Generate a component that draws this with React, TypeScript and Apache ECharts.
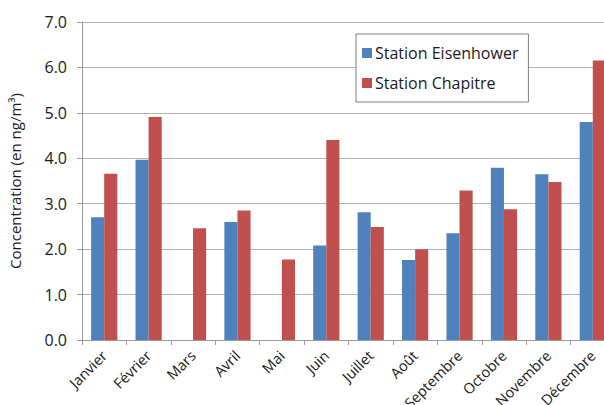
import React, { useEffect, useRef } from "react";
import * as echarts from "echarts";

const categories = ["Janvier", "Février", "Mars", "Avril", "Mai", "Juin", "Juillet", "Août", "Septembre", "Octobre", "Novembre", "Décembre"];
const eisenhower: (number | null)[] = [2.7, 3.97, null, 2.6, null, 2.08, 2.81, 1.76, 2.35, 3.79, 3.65, 4.8];
const chapitre: number[] = [3.66, 4.91, 2.46, 2.85, 1.77, 4.4, 2.49, 2.0, 3.29, 2.88, 3.48, 6.15];
const seriesNames = ["Station Eisenhower", "Station Chapitre"];
const yAxisTitle = "Concentration (en ng/m³)";

const FONT = "'Open Sans', sans-serif";

export default function App() {
  const ref = useRef<HTMLDivElement>(null);
  useEffect(() => {
    if (!ref.current) return;
    const chart = echarts.init(ref.current, undefined, { renderer: "svg" });
    chart.setOption({
      animation: false,
      backgroundColor: "#ffffff",
      textStyle: { fontFamily: FONT },
      grid: { left: 82, top: 22, bottom: 65, width: 533, containLabel: false, outerBoundsMode: "none" },
      legend: {
        orient: "vertical",
        left: 356,
        top: 34,
        width: 185,
        padding: [11, 10, 11, 6],
        itemGap: 14,
        itemWidth: 10,
        itemHeight: 10,
        borderColor: "#7f7f7f",
        borderWidth: 1,
        borderRadius: 0,
        backgroundColor: "#ffffff",
        icon: "rect",
        textStyle: { fontFamily: FONT, fontSize: 16, color: "#1a1a1a", padding: [0, 0, 0, -2] },
        data: seriesNames,
      },
      xAxis: {
        type: "category",
        data: categories,
        axisLine: { lineStyle: { color: "#9a9a9a" } },
        axisTick: { show: true, length: 5, lineStyle: { color: "#9a9a9a" } },
        axisLabel: { rotate: 45, fontSize: 14.5, color: "#1a1a1a", fontFamily: FONT, margin: 13, interval: 0 },
      },
      yAxis: {
        type: "value",
        min: 0,
        max: 7,
        interval: 1,
        name: yAxisTitle,
        nameLocation: "middle",
        nameGap: 60,
        nameTextStyle: { fontSize: 15, color: "#1a1a1a", fontFamily: FONT },
        axisLine: { show: true, lineStyle: { color: "#9a9a9a" } },
        axisTick: { show: true, length: 5, lineStyle: { color: "#9a9a9a" } },
        axisLabel: { fontSize: 16, color: "#1a1a1a", fontFamily: FONT, margin: 15, formatter: (v: number) => v.toFixed(1) },
        splitLine: { lineStyle: { color: "#b3b3b3" } },
      },
      series: [
        {
          name: seriesNames[0],
          type: "bar",
          data: eisenhower,
          barGap: "0%",
          barCategoryGap: "41%",
          itemStyle: { color: "#4F81BD" },
        },
        {
          name: seriesNames[1],
          type: "bar",
          data: chapitre,
          barGap: "0%",
          barCategoryGap: "41%",
          itemStyle: { color: "#C0504D" },
        },
      ],
    });
    return () => chart.dispose();
  }, []);
  return <div ref={ref} style={{ width: 604, height: 405, position: "absolute", left: 0, top: 0 }} />;
}
